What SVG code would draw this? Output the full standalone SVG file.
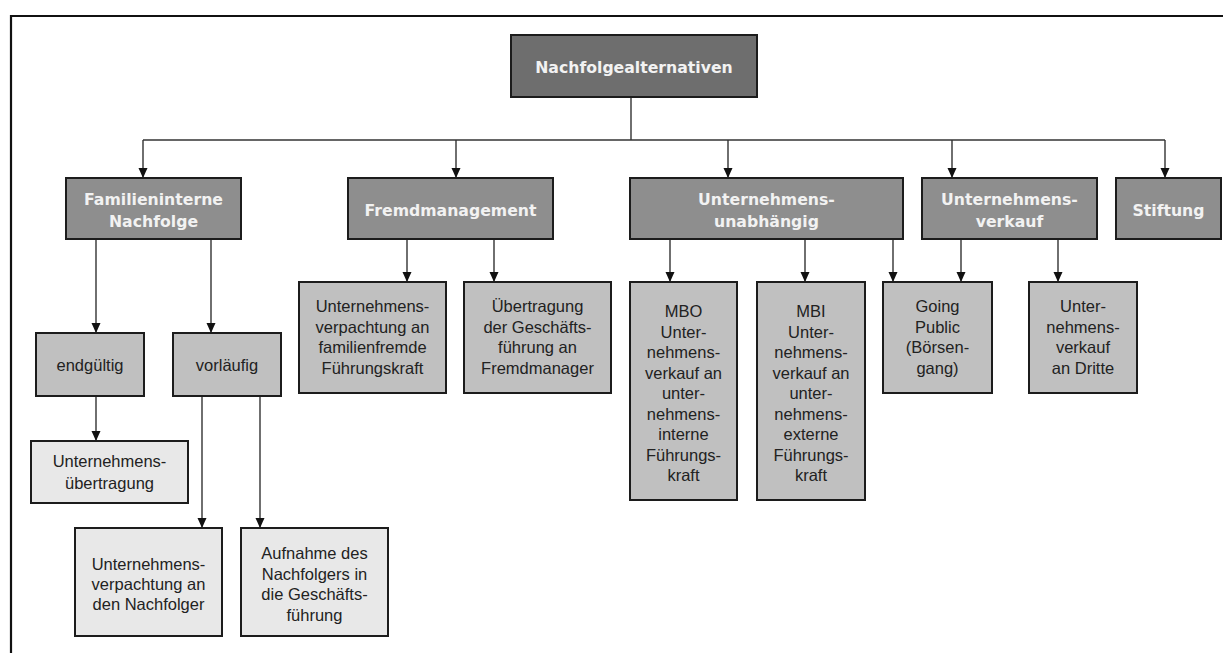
<svg xmlns="http://www.w3.org/2000/svg" width="1223" height="653" viewBox="0 0 1223 653">
  <style>
    .box { stroke: #1c1c1c; stroke-width: 2; }
    .root { fill: #6e6e6e; }
    .l1 { fill: #8e8e8e; }
    .l2 { fill: #c0c0c0; }
    .l3 { fill: #e8e8e8; }
    .head { font-family: "DejaVu Sans", Verdana, sans-serif; font-weight: bold; font-size: 15.7px; fill: #f2f2f2; text-anchor: middle; }
    .lbl { font-family: "Liberation Sans", Arial, sans-serif; font-size: 16.5px; fill: #222; text-anchor: middle; }
    .con { stroke: #333; stroke-width: 1.4; fill: none; marker-end: url(#arrow); }
    .con-plain { stroke: #333; stroke-width: 1.4; fill: none; }
  </style>
  <defs>
    <marker id="arrow" markerUnits="userSpaceOnUse" markerWidth="10" markerHeight="10" viewBox="0 0 10 10" refX="10" refY="5" orient="auto">
      <path d="M0,0.5 L10,5 L0,9.5 Z" fill="#111"/>
    </marker>
  </defs>

  <rect x="0" y="0" width="1223" height="653" fill="#ffffff"/>
  <!-- frame -->
  <path d="M11,653 V16 H1223" fill="none" stroke="#111" stroke-width="2.2"/>

  <!-- connectors -->
  <g id="connectors">
    <path class="con-plain" d="M631,97 V140"/>
    <path class="con-plain" d="M143,140 H1165"/>
    <path class="con" d="M143,140 V178"/>
    <path class="con" d="M456,140 V178"/>
    <path class="con" d="M728,140 V178"/>
    <path class="con" d="M952,140 V178"/>
    <path class="con" d="M1165,140 V178"/>

    <path class="con" d="M96,239 V333"/>
    <path class="con" d="M211,239 V333"/>
    <path class="con" d="M96,396 V441"/>
    <path class="con" d="M202,396 V528"/>
    <path class="con" d="M260,396 V528"/>

    <path class="con" d="M407,239 V282"/>
    <path class="con" d="M494,239 V282"/>

    <path class="con" d="M670,239 V282"/>
    <path class="con" d="M805,239 V282"/>
    <path class="con" d="M893,239 V282"/>

    <path class="con" d="M961,239 V282"/>
    <path class="con" d="M1058,239 V282"/>
  </g>

  <g id="nachfolgealternativen">
    <rect class="box root" x="511" y="35" width="246" height="62"/>
    <text class="head" x="634" y="72.5">Nachfolgealternativen</text>
  </g>

  <g id="familieninterne">
    <rect class="box l1" x="66" y="178" width="175" height="61"/>
    <text class="head" x="153.5" y="204.5">Familieninterne</text>
    <text class="head" x="153.5" y="226.5">Nachfolge</text>
  </g>

  <g id="fremdmanagement">
    <rect class="box l1" x="348" y="178" width="205" height="61"/>
    <text class="head" x="450.5" y="215.5">Fremdmanagement</text>
  </g>

  <g id="unabhaengig">
    <rect class="box l1" x="630" y="178" width="273" height="61"/>
    <text class="head" x="766.5" y="204.5">Unternehmens-</text>
    <text class="head" x="766.5" y="226.5">unabhängig</text>
  </g>

  <g id="verkauf">
    <rect class="box l1" x="922" y="178" width="175" height="61"/>
    <text class="head" x="1009.5" y="204.5">Unternehmens-</text>
    <text class="head" x="1009.5" y="226.5">verkauf</text>
  </g>

  <g id="stiftung">
    <rect class="box l1" x="1116" y="178" width="105" height="61"/>
    <text class="head" x="1168.5" y="215.5">Stiftung</text>
  </g>

  <g id="endgueltig">
    <rect class="box l2" x="36" y="333" width="108" height="63"/>
    <text class="lbl" x="90" y="371">endgültig</text>
  </g>

  <g id="vorlaeufig">
    <rect class="box l2" x="173" y="333" width="108" height="63"/>
    <text class="lbl" x="227" y="371">vorläufig</text>
  </g>

  <g id="uebertragung">
    <rect class="box l3" x="31" y="441" width="157" height="62"/>
    <text class="lbl" x="109.5" y="467">Unternehmens-</text>
    <text class="lbl" x="109.5" y="489">übertragung</text>
  </g>

  <g id="verpachtung-nachfolger">
    <rect class="box l3" x="75" y="528" width="147" height="108"/>
    <text class="lbl" x="148.5" y="570">Unternehmens-</text>
    <text class="lbl" x="148.5" y="590">verpachtung an</text>
    <text class="lbl" x="148.5" y="610">den Nachfolger</text>
  </g>

  <g id="aufnahme">
    <rect class="box l3" x="241" y="528" width="147" height="108"/>
    <text class="lbl" x="314.5" y="559">Aufnahme des</text>
    <text class="lbl" x="314.5" y="579.5">Nachfolgers in</text>
    <text class="lbl" x="314.5" y="600">die Geschäfts-</text>
    <text class="lbl" x="314.5" y="620.5">führung</text>
  </g>

  <g id="verpachtung-fremd">
    <rect class="box l2" x="299" y="282" width="147" height="111"/>
    <text class="lbl" x="372.5" y="312">Unternehmens-</text>
    <text class="lbl" x="372.5" y="332.5">verpachtung an</text>
    <text class="lbl" x="372.5" y="353">familienfremde</text>
    <text class="lbl" x="372.5" y="373.5">Führungskraft</text>
  </g>

  <g id="uebertragung-gf">
    <rect class="box l2" x="464" y="282" width="147" height="111"/>
    <text class="lbl" x="537.5" y="312">Übertragung</text>
    <text class="lbl" x="537.5" y="332.5">der Geschäfts-</text>
    <text class="lbl" x="537.5" y="353">führung an</text>
    <text class="lbl" x="537.5" y="373.5">Fremdmanager</text>
  </g>

  <g id="mbo">
    <rect class="box l2" x="630" y="282" width="107" height="218"/>
    <text class="lbl" x="683.5" y="317">MBO</text>
    <text class="lbl" x="683.5" y="337.5">Unter-</text>
    <text class="lbl" x="683.5" y="358">nehmens-</text>
    <text class="lbl" x="683.5" y="378.5">verkauf an</text>
    <text class="lbl" x="683.5" y="399">unter-</text>
    <text class="lbl" x="683.5" y="419.5">nehmens-</text>
    <text class="lbl" x="683.5" y="440">interne</text>
    <text class="lbl" x="683.5" y="460.5">Führungs-</text>
    <text class="lbl" x="683.5" y="481">kraft</text>
  </g>

  <g id="mbi">
    <rect class="box l2" x="757" y="282" width="108" height="218"/>
    <text class="lbl" x="811" y="317">MBI</text>
    <text class="lbl" x="811" y="337.5">Unter-</text>
    <text class="lbl" x="811" y="358">nehmens-</text>
    <text class="lbl" x="811" y="378.5">verkauf an</text>
    <text class="lbl" x="811" y="399">unter-</text>
    <text class="lbl" x="811" y="419.5">nehmens-</text>
    <text class="lbl" x="811" y="440">externe</text>
    <text class="lbl" x="811" y="460.5">Führungs-</text>
    <text class="lbl" x="811" y="481">kraft</text>
  </g>

  <g id="going-public">
    <rect class="box l2" x="883" y="282" width="109" height="111"/>
    <text class="lbl" x="937.5" y="312">Going</text>
    <text class="lbl" x="937.5" y="332.5">Public</text>
    <text class="lbl" x="937.5" y="353">(Börsen-</text>
    <text class="lbl" x="937.5" y="373.5">gang)</text>
  </g>

  <g id="verkauf-dritte">
    <rect class="box l2" x="1029" y="282" width="108" height="111"/>
    <text class="lbl" x="1083" y="312">Unter-</text>
    <text class="lbl" x="1083" y="332.5">nehmens-</text>
    <text class="lbl" x="1083" y="353">verkauf</text>
    <text class="lbl" x="1083" y="373.5">an Dritte</text>
  </g>
</svg>
